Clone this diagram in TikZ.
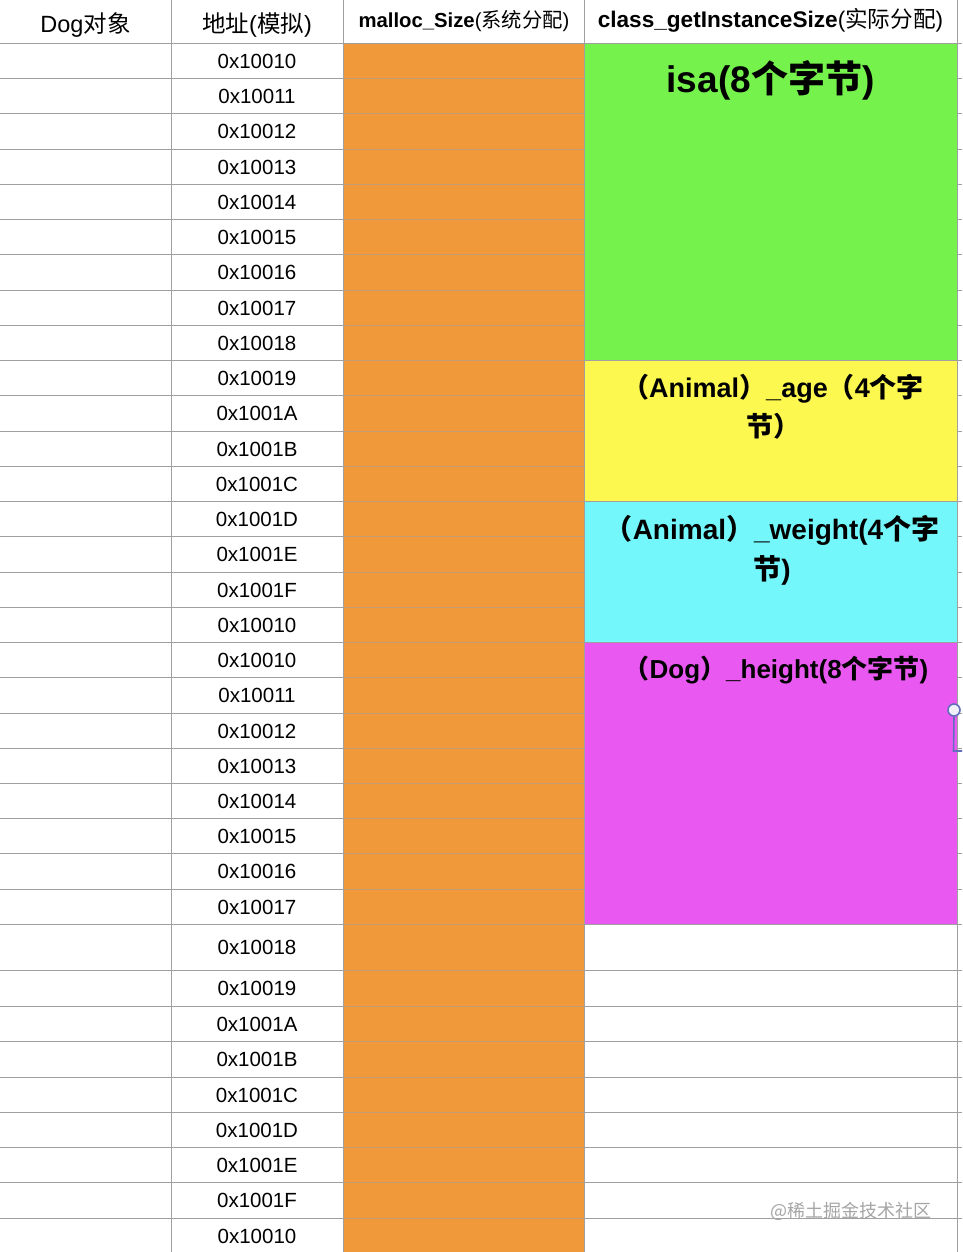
\documentclass[tikz,border=0pt]{standalone}
\usepackage{fontspec}
\setmainfont{Liberation Sans}
\newfontfamily\cjk{Noto Sans CJK SC}
\definecolor{orangeC}{RGB}{240,153,58}
\definecolor{greenC}{RGB}{117,242,76}
\definecolor{yellowC}{RGB}{253,248,80}
\definecolor{cyanC}{RGB}{116,247,250}
\definecolor{magentaC}{RGB}{234,88,242}
\definecolor{gridC}{RGB}{160,160,160}
\definecolor{ogridC}{RGB}{196,156,112}
\definecolor{wmC}{RGB}{165,165,165}
\definecolor{handleC}{RGB}{100,110,190}
\tikzset{
  gridline/.style={draw=gridC, line width=1pt},
  ogridline/.style={draw=ogridC, line width=1pt},
  addr/.style={inner sep=0pt, font=\fontsize{20.5}{24}\selectfont},
  hdr/.style={inner sep=0pt, anchor=base},
  blocktext/.style={inner sep=0pt, align=center, font=\fontsize{27}{39}\selectfont\bfseries},
}
\begin{document}
\begin{tikzpicture}[x=1pt,y=-1pt]
\useasboundingbox (0,0) rectangle (962,1252);
\fill[white] (0,0) rectangle (962,1252);
% fills
\fill[orangeC] (343,43.5) rectangle (584,1252);
\fill[greenC] (584,43.5) rectangle (957,360.5);
\fill[yellowC] (584,360.5) rectangle (957,501.5);
\fill[cyanC] (584,501.5) rectangle (957,642.5);
\fill[magentaC] (584,642.5) rectangle (957,924.5);
% horizontal grid lines
\foreach \y in {78.5,113.5,149.5,184.5,219.5,254.5,290.5,325.5,360.5,395.5,431.5,466.5,501.5,536.5,572.5,607.5,642.5,677.5,713.5,748.5,783.5,818.5,853.5,889.5,924.5,970.5,1006.5,1041.5,1077.5,1112.5,1147.5,1182.5,1218.5}{
  \draw[gridline] (0,\y) -- (343,\y);
  \draw[ogridline] (343,\y) -- (584,\y);
  \draw[gridline] (957,\y) -- (962,\y);
}
\foreach \y in {360.5,501.5,642.5,924.5,970.5,1006.5,1041.5,1077.5,1112.5,1147.5,1182.5,1218.5}{
  \draw[gridline] (584,\y) -- (957,\y);
}
\draw[gridline] (0,43.5) -- (962,43.5);
% vertical grid lines
\foreach \x in {171.5,343.5,584.5,957.5}{
  \draw[gridline] (\x,0) -- (\x,1252);
}
% headers
\node[hdr] (h1) at (85.5,33) {\fontsize{23.5}{27}\selectfont Dog{\cjk 对象}};
\node[hdr] (h2) at (257,33) {\fontsize{23.5}{27}\selectfont{\cjk 地址}({\cjk 模拟})};
\node[hdr] (h3) at (464,28) {\fontsize{20.3}{24}\selectfont{\bfseries malloc\_Size}({\cjk 系统分配})};
\node[hdr] (h4) at (770.5,28) {\fontsize{22.6}{26}\selectfont{\bfseries class\_getInstanceSize}({\cjk 实际分配})};
% addresses
\foreach \lab/\yc [count=\i] in {0x10010/61,0x10011/96,0x10012/131.5,0x10013/167,0x10014/202,0x10015/237,0x10016/272.5,0x10017/308,0x10018/343,0x10019/378,0x1001A/413.5,0x1001B/449,0x1001C/484,0x1001D/519,0x1001E/554.5,0x1001F/590,0x10010/625,0x10010/660,0x10011/695.5,0x10012/731,0x10013/766,0x10014/801,0x10015/836,0x10016/871.5,0x10017/907,0x10018/947.5,0x10019/988.5,0x1001A/1024,0x1001B/1059.5,0x1001C/1095,0x1001D/1130,0x1001E/1165,0x1001F/1200.5,0x10010/1236}{
  \node[addr] (a\i) at (257,\yc) {\lab};
}
% block texts
\node[hdr, font=\fontsize{37}{42}\selectfont\bfseries] (isa) at (770.5,93) {isa(8{\cjk 个字节})};
\node[blocktext, anchor=north] (age) at (773,374) {{\cjk （}Animal{\cjk ）}\_age{\cjk （}4{\cjk 个字}\\{\cjk 节）}};
\node[blocktext, anchor=north, font=\fontsize{28}{40}\selectfont\bfseries] (weight) at (772,515) {{\cjk （}Animal{\cjk ）}\_weight(4{\cjk 个字}\\{\cjk 节})};
\node[blocktext, anchor=north, font=\fontsize{26}{38}\selectfont\bfseries] (height) at (776,656) {{\cjk （}Dog{\cjk ）}\_height(8{\cjk 个字节})};
% selection handle
\coordinate (hb) at (953.5,751);
\coordinate (he) at (962,751);
\node[circle, draw=handleC, fill=white!90!handleC, line width=1.6pt, minimum size=12pt, inner sep=0pt] (handle) at (954,710) {};
\draw[draw=handleC, line width=1.6pt] (handle.south) -- (hb) -- (he);
% watermark
\node[inner sep=0pt, text=wmC, font=\cjk\fontsize{18}{20}\selectfont] (wm) at (851,1211) {@稀土掘金技术社区};
\end{tikzpicture}
\end{document}
